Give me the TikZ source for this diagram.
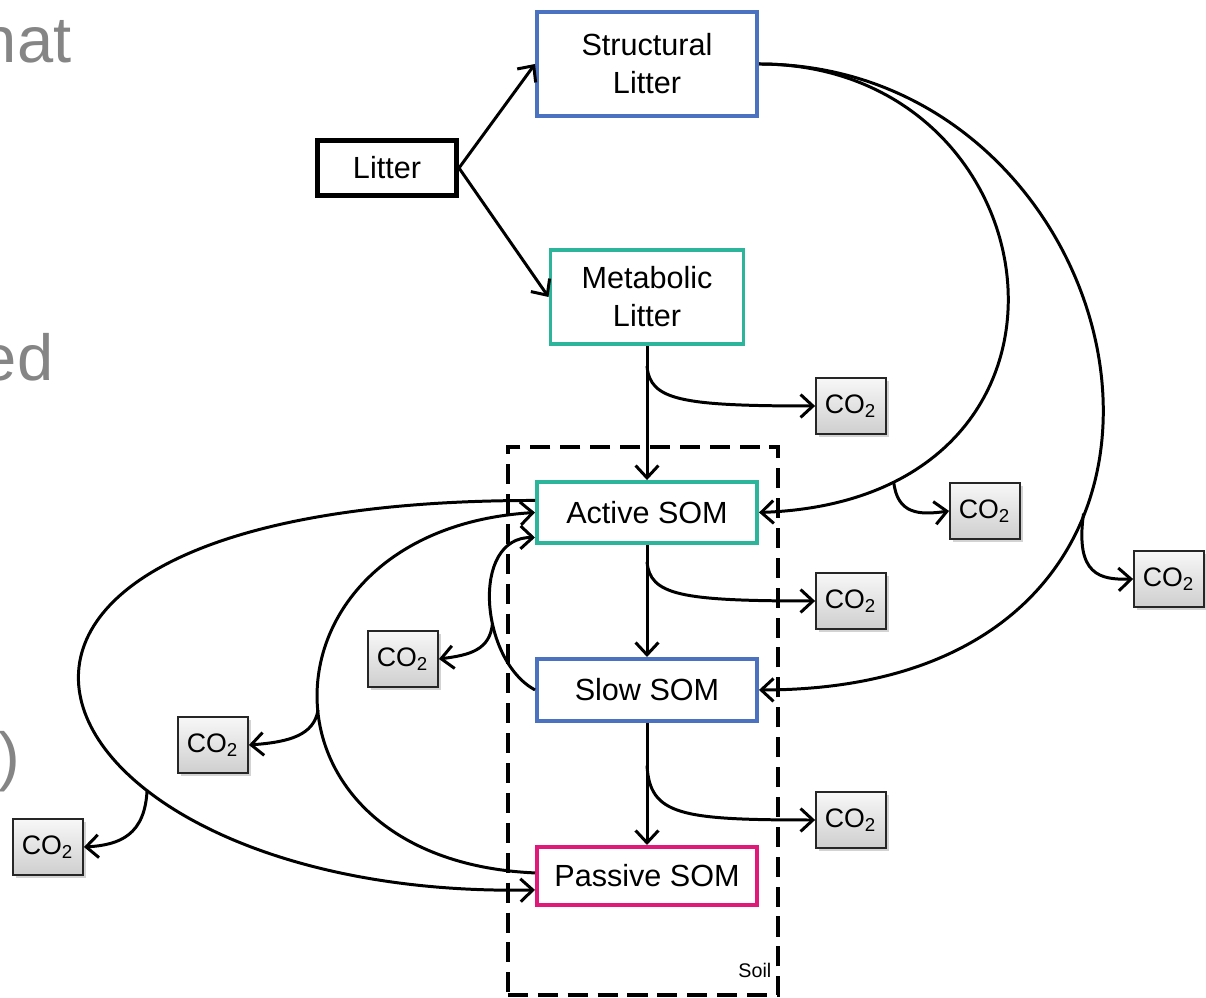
\documentclass[tikz,border=0pt]{standalone}
\usepackage{fontspec}
\setmainfont{Liberation Sans}
\usepackage{xcolor}
\usepackage{tikz}
\usetikzlibrary{shapes,arrows.meta,positioning,shadows}

\definecolor{poolblue}{HTML}{4A72C0}
\definecolor{poolteal}{HTML}{2DB59B}
\definecolor{poolpink}{HTML}{E0187A}
\definecolor{slidegray}{HTML}{858585}

\begin{document}
\begin{tikzpicture}[x=0.01cm, y=-0.01cm,
    >={Straight Barb[length=3.5pt,width=6.5pt]},
    pool/.style={rectangle, draw, line width=1.1pt, fill=white, minimum width=2.2cm, align=center, inner sep=0pt, font=\fontsize{8.7}{10.8}\selectfont},
    gas/.style={rectangle, draw=gray!30!black, line width=0.5pt, top color=gray!6, bottom color=gray!38, minimum width=0.7cm, minimum height=0.56cm, inner sep=0pt, font=\fontsize{7.6}{9}\selectfont, drop shadow={shadow xshift=0.03cm, shadow yshift=-0.03cm, opacity=0.35}},
    flow/.style={->, line width=0.85pt},
    soilbox/.style={rectangle, draw, line width=1.1pt, dash pattern=on 5.7pt off 2.8pt, minimum width=2.7cm, minimum height=5.48cm},
    slide/.style={text=slidegray, font=\fontsize{18.5}{22}\selectfont, inner sep=0pt}
]
    \useasboundingbox (0,0) rectangle (1206,998);

    \node[slide, anchor=base east] (hat) at (72,63) {hat};
    \node[slide, anchor=base east] (ed) at (54,381) {ed};
    \node[slide, anchor=base east] (paren) at (21,779) {)};

    \node[soilbox] (soil) at (643,721) {};
    \node[anchor=base east, inner sep=0pt, font=\fontsize{5.6}{6}\selectfont] (soiltag) at (772,978) {Soil};

    \node[pool, draw=poolblue, minimum height=1.04cm] (str) at (647,64) {Structural\\Litter};
    \node[pool, draw=poolteal, minimum width=1.93cm, minimum height=0.94cm, below=1.30cm of str] (met) {Metabolic\\Litter};
    \node[pool, draw=poolteal, minimum height=0.61cm, below=1.34cm of met] (act) {Active SOM};
    \node[pool, draw=poolblue, minimum height=0.62cm, below=1.12cm of act] (slow) {Slow SOM};
    \node[pool, draw=poolpink, minimum height=0.58cm, below=1.22cm of slow] (pas) {Passive SOM};
    \node[pool, draw=black, line width=1.4pt, minimum width=1.39cm, minimum height=0.55cm] (lit) at (387,168) {Litter};

    \node[gas] (ga) at (851,406) {CO\textsubscript{2}};
    \node[gas] (gb) at (985,511) {CO\textsubscript{2}};
    \node[gas] (gc) at (1169,579) {CO\textsubscript{2}};
    \node[gas] (gd) at (851,601) {CO\textsubscript{2}};
    \node[gas] (ge) at (403,659) {CO\textsubscript{2}};
    \node[gas] (gf) at (213,745) {CO\textsubscript{2}};
    \node[gas] (gg) at (48,847) {CO\textsubscript{2}};
    \node[gas] (gh) at (851,820) {CO\textsubscript{2}};

    \draw[flow] (lit.east) -- (str.west);
    \draw[flow] (lit.east) -- (met.west);
    \draw[flow] (met) -- (act) coordinate[pos=0.15] (m1);
    \draw[flow] (act) -- (slow) coordinate[pos=0.15] (a1);
    \draw[flow] (slow) -- (pas) coordinate[pos=0.35] (s1);
    \draw[flow] (m1) .. controls (650,400) and (680,406) .. (ga.west);
    \draw[flow] (a1) .. controls (650,595) and (680,601) .. (gd.west);
    \draw[flow] (s1) .. controls (650,815) and (680,820) .. (gh.west);

    \draw[flow] (str.east) .. controls (1060,64) and (1120,500) .. (act.east) coordinate[pos=0.85] (b1);
    \draw[flow] (str.east) .. controls (1150,64) and (1280,690) .. (slow.east) coordinate[pos=0.65] (b2);
    \draw[flow] (b1) .. controls (897,515) and (920,515) .. (gb.west);
    \draw[flow] (b2) .. controls (1075,575) and (1100,580) .. (gc.west);

    \draw[flow] (slow.west) .. controls (480,660) and (470,537) .. ([yshift=-0.25cm]act.west) coordinate[pos=0.4] (b3);
    \draw[flow] (b3) .. controls (490,650) and (470,655) .. (ge.east);
    \draw[flow] ([yshift=0.03cm]pas.west) .. controls (240,860) and (250,530) .. (act.west) coordinate[pos=0.47] (b4);
    \draw[flow] (b4) .. controls (314,735) and (290,742) .. (gf.east);
    \draw[flow] ([yshift=0.12cm]act.west) .. controls (-160,500) and (20,900) .. ([yshift=-0.14cm]pas.west) coordinate[pos=0.66] (b5);
    \draw[flow] (b5) .. controls (145,835) and (120,845) .. (gg.east);
\end{tikzpicture}
\end{document}
